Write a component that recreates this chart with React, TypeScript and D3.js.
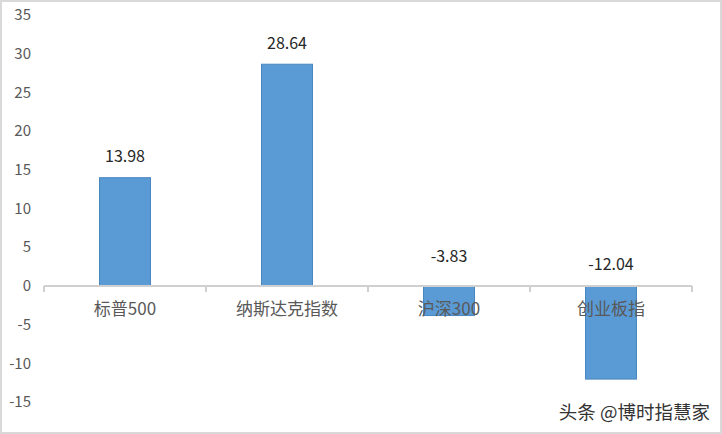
import React from 'react';
import * as d3 from 'd3';

const categories = ['标普500', '纳斯达克指数', '沪深300', '创业板指'];
const values = [13.98, 28.64, -3.83, -12.04];
const yTicks = [-15, -10, -5, 0, 5, 10, 15, 20, 25, 30, 35];

const W = 722;
const H = 434;
const FONT = '"Noto Sans CJK SC", "Noto Sans", sans-serif';

export default function App() {
  const x = d3.scaleBand<string>().domain(categories).range([44, 692]).paddingInner(0).paddingOuter(0);
  const y = d3.scaleLinear().domain([-15, 35]).range([402, 15]);
  const barW = 51;
  const y0 = y(0);

  return (
    <div style={{ position: 'absolute', left: 0, top: 0 }}>
      <svg width={W} height={H} style={{ display: 'block', fontFamily: FONT }}>
        <rect x={0} y={0} width={W} height={H} fill="#fff" />
        <rect x={1} y={1} width={W - 2} height={H - 2} fill="none" stroke="#d9d9d9" strokeWidth={2} />

        {/* y tick labels */}
        {yTicks.map(t => (
          <text key={t} x={31} y={y(t)} dy="0.35em" textAnchor="end" fontSize={15} fill="#595959">
            {t}
          </text>
        ))}

        {/* bars */}
        {categories.map((c, i) => {
          const v = values[i];
          const cx = (x(c) ?? 0) + x.bandwidth() / 2;
          return (
            <rect
              key={c}
              x={cx - barW / 2}
              y={Math.min(y(v), y0)}
              width={barW}
              height={Math.abs(y(v) - y0)}
              fill="#5b9bd5"
              stroke="#4a86bf"
              strokeWidth={1}
            />
          );
        })}

        {/* category axis */}
        <line x1={44} x2={692} y1={y0} y2={y0} stroke="#d0d0d0" strokeWidth={2} />
        {[...categories.map(c => x(c) ?? 0), 692].map((tx, i) => (
          <line key={i} x1={tx} x2={tx} y1={y0} y2={y0 + 6} stroke="#d0d0d0" strokeWidth={2} />
        ))}
        {categories.map(c => (
          <text key={c} x={(x(c) ?? 0) + x.bandwidth() / 2} y={309} dy="0.35em" textAnchor="middle" fontSize={17} fill="#595959">
            {c}
          </text>
        ))}

        {/* value labels */}
        {categories.map((c, i) => {
          const v = values[i];
          const cx = (x(c) ?? 0) + x.bandwidth() / 2;
          const ly = v >= 0 ? y(v) - 21 : y0 - (v > -5 ? 30 : 22);
          return (
            <text key={c} x={cx} y={ly} dy="0.35em" textAnchor="middle" fontSize={16} fill="#262626">
              {v.toFixed(2)}
            </text>
          );
        })}

        {/* watermark */}
        <text x={710} y={413} dy="0.35em" textAnchor="end" fontSize={18.5} fill="#333" stroke="#fff" strokeWidth={3} paintOrder="stroke">
          头条 @博时指慧家
        </text>
      </svg>
    </div>
  );
}
